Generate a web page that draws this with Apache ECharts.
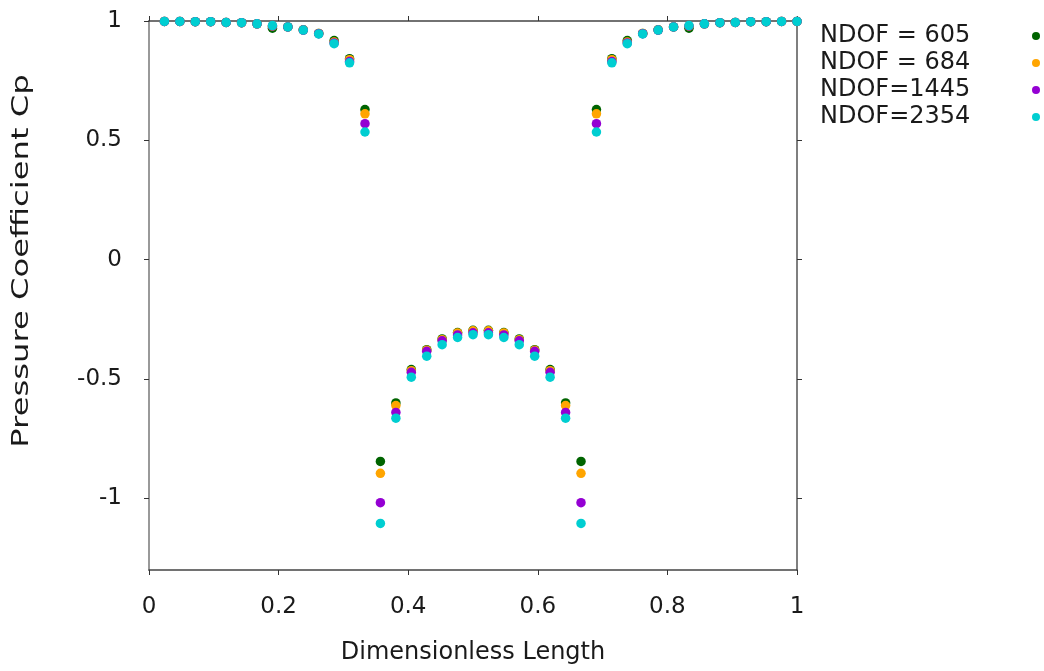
<!DOCTYPE html>
<html>
<head>
<meta charset="utf-8">
<script src="https://cdn.jsdelivr.net/npm/echarts@6/dist/echarts.min.js"></script>
<style>html,body{margin:0;padding:0;background:#fff;}#c{width:1044px;height:671px;}</style>
</head>
<body>
<div id="c"></div>
<script>
var xValues = [0.0238,0.0476,0.0714,0.0952,0.1190,0.1429,0.1667,0.1905,0.2143,0.2381,0.2619,0.2857,0.3095,0.3333,
  0.3571,0.3810,0.4048,0.4286,0.4524,0.4762,0.5000,0.5238,0.5476,0.5714,0.5952,0.6190,0.6429,0.6667,
  0.6905,0.7143,0.7381,0.7619,0.7857,0.8095,0.8333,0.8571,0.8810,0.9048,0.9286,0.9524,0.9762,1.0000];

var ndof605 = [0.998,0.998,0.997,0.997,0.994,0.993,0.988,0.970,0.975,0.963,0.948,0.918,0.842,0.629,
  -0.845,-0.600,-0.460,-0.377,-0.332,-0.305,-0.296,-0.296,-0.305,-0.332,-0.377,-0.460,-0.600,-0.845,
  0.629,0.842,0.918,0.948,0.963,0.975,0.970,0.988,0.993,0.994,0.997,0.997,0.998,0.998];
var ndof684 = [0.998,0.998,0.997,0.997,0.994,0.993,0.988,0.978,0.975,0.963,0.948,0.912,0.838,0.611,
  -0.895,-0.611,-0.465,-0.379,-0.335,-0.307,-0.298,-0.298,-0.307,-0.335,-0.379,-0.465,-0.611,-0.895,
  0.611,0.838,0.912,0.948,0.963,0.975,0.978,0.988,0.993,0.994,0.997,0.997,0.998,0.998];
var ndof1445 = [0.998,0.998,0.997,0.997,0.994,0.993,0.988,0.979,0.975,0.962,0.947,0.908,0.830,0.570,
  -1.018,-0.640,-0.472,-0.384,-0.340,-0.315,-0.306,-0.306,-0.315,-0.340,-0.384,-0.472,-0.640,-1.018,
  0.570,0.830,0.908,0.947,0.962,0.975,0.979,0.988,0.993,0.994,0.997,0.997,0.998,0.998];
var ndof2354 = [0.998,0.998,0.997,0.997,0.994,0.993,0.988,0.981,0.975,0.962,0.946,0.905,0.825,0.535,
  -1.105,-0.664,-0.492,-0.404,-0.356,-0.326,-0.314,-0.314,-0.326,-0.356,-0.404,-0.492,-0.664,-1.105,
  0.535,0.825,0.905,0.946,0.962,0.975,0.981,0.988,0.993,0.994,0.997,0.997,0.998,0.998];

var seriesNames = ['NDOF = 605', 'NDOF = 684', 'NDOF=1445', 'NDOF=2354'];
var seriesColors = ['#006400', '#ffa500', '#9400d3', '#00ced1'];
var xTicks = [0, 0.2, 0.4, 0.6, 0.8, 1];
var yTicks = [-1, -0.5, 0, 0.5, 1];
var xTitle = 'Dimensionless Length';
var yTitle = 'Pressure Coefficient Cp';

var seriesValues = [ndof605, ndof684, ndof1445, ndof2354];
var FONT = 'DejaVu Sans';
var FS = 23;
var TXT = '#1a1a1a';

function pairs(ys) { return ys.map(function (v, i) { return [xValues[i], v]; }); }

var chart = echarts.init(document.getElementById('c'), null, { renderer: 'canvas' });
var series = seriesValues.map(function (ys, k) {
  return {
    name: seriesNames[k], type: 'scatter', data: pairs(ys),
    symbol: 'circle', symbolSize: 9.5, clip: false,
    itemStyle: { color: seriesColors[k], opacity: 1 },
    emphasis: { disabled: true }, animation: false
  };
});

var commonTick = { show: true, inside: false, length: 5, lineStyle: { color: '#333', width: 1 } };

chart.setOption({
  animation: false,
  backgroundColor: '#ffffff',
  grid: { left: 149, right: 247, top: 21, bottom: 101, containLabel: false },
  legend: {
    orient: 'vertical', left: 820, top: 24, align: 'right', padding: 0,
    itemWidth: 8, itemHeight: 8, itemGap: 3, icon: 'circle',
    data: seriesNames,
    formatter: function (n) { return '{t|' + n + '}'; },
    textStyle: {
      fontFamily: FONT, fontSize: 24, color: TXT,
      rich: { t: { width: 207, fontFamily: FONT, fontSize: 24, color: TXT, lineHeight: 24, align: 'left' } }
    },
    selectedMode: false
  },
  xAxis: [{
    type: 'value', min: 0, max: 1, position: 'bottom',
    name: xTitle, nameLocation: 'middle', nameGap: 71,
    nameTextStyle: { fontFamily: FONT, fontSize: 24, color: TXT },
    axisLine: { show: true, onZero: false, lineStyle: { color: '#444', width: 1.5 } },
    axisTick: Object.assign({ customValues: xTicks }, commonTick),
    axisLabel: { customValues: xTicks, margin: 26, fontFamily: FONT, fontSize: FS, color: TXT,
      formatter: function (v) { return String(v); } },
    splitLine: { show: false }
  }, {
    type: 'value', min: 0, max: 1, position: 'top',
    axisLine: { show: true, onZero: false, lineStyle: { color: '#444', width: 1.5 } },
    axisTick: Object.assign({ customValues: xTicks }, commonTick),
    axisLabel: { show: false }, splitLine: { show: false }
  }],
  yAxis: [{
    type: 'value', min: -1.3, max: 1, position: 'left',
    axisLine: { show: true, onZero: false, lineStyle: { color: '#999', width: 2 } },
    axisTick: Object.assign({ customValues: yTicks }, commonTick),
    axisLabel: { customValues: yTicks, margin: 27, fontFamily: FONT, fontSize: FS, color: TXT,
      formatter: function (v) { return String(v); } },
    splitLine: { show: false }
  }, {
    type: 'value', min: -1.3, max: 1, position: 'right',
    axisLine: { show: true, onZero: false, lineStyle: { color: '#555', width: 1.5 } },
    axisTick: Object.assign({ customValues: yTicks }, commonTick),
    axisLabel: { show: false }, splitLine: { show: false }
  }],
  graphic: [{
    type: 'text', x: 22, y: 261, rotation: Math.PI / 2, scaleX: 1.4,
    style: { text: yTitle, fontFamily: FONT, fontSize: 23, fill: TXT, align: 'center', verticalAlign: 'middle' }
  }],
  series: series
});
</script>
</body>
</html>
